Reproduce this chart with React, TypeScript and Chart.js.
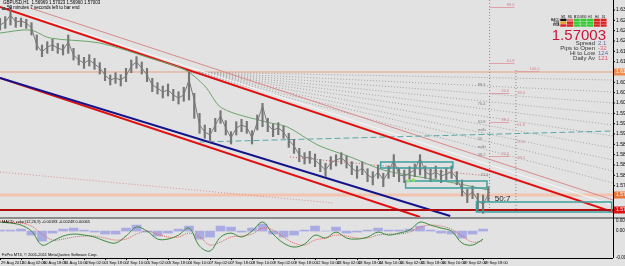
import React, { useEffect, useRef } from "react";
import { Chart, registerables } from "chart.js";
Chart.register(...registerables);

const BG = "#e2e2e2";
const FONT = "Liberation Sans, Arial, sans-serif";

// x unit = trading hours from the first bar
const BAR_HOURS = 4;
const OSC_HOURS = 8;
const LABEL_HOURS = 16;
const X_MAX = 467;
const PRICE_MIN = 1.5679;
const PRICE_MAX = 1.633;
const OSC_MIN = -0.0062;
const OSC_MAX = 0.00278;

const closes = [
  1.6255, 1.6264, 1.6285, 1.6264, 1.6267, 1.6261, 1.6246, 1.6195, 1.6174, 1.6189,
  1.6195, 1.6186, 1.618, 1.6204, 1.6165, 1.615, 1.6141, 1.615, 1.6138, 1.6126,
  1.6105, 1.609, 1.6096, 1.609, 1.6102, 1.6132, 1.6144, 1.6126, 1.6105, 1.6075,
  1.6066, 1.6054, 1.606, 1.6045, 1.6036, 1.6045, 1.609, 1.603, 1.5955, 1.5934,
  1.5925, 1.5955, 1.5982, 1.5946, 1.5916, 1.5946, 1.5955, 1.5949, 1.5916, 1.5964,
  1.6012, 1.5955, 1.594, 1.5946, 1.5934, 1.591, 1.5892, 1.5865, 1.5856, 1.5859,
  1.585, 1.5835, 1.582, 1.5841, 1.585, 1.5856, 1.5844, 1.5826, 1.5814, 1.5826,
  1.5805, 1.5796, 1.5814, 1.579, 1.5814, 1.585, 1.5805, 1.5802, 1.5811, 1.582,
  1.5856, 1.5814, 1.5805, 1.5814, 1.5802, 1.5808, 1.5814, 1.5796, 1.576, 1.5742,
  1.5754, 1.573, 1.5715, 1.5748,
];
const highs = [
  1.6275, 1.628, 1.631, 1.6278, 1.6276, 1.6272, 1.6262, 1.6225, 1.6195, 1.6205,
  1.6212, 1.62, 1.6196, 1.6225, 1.6185, 1.6165, 1.6158, 1.6166, 1.6155, 1.6142,
  1.6125, 1.6105, 1.6112, 1.6106, 1.6125, 1.615, 1.616, 1.6144, 1.6125, 1.6095,
  1.6082, 1.6072, 1.6078, 1.6062, 1.6055, 1.6068, 1.6114, 1.605, 1.599, 1.5955,
  1.5945, 1.5975, 1.5998, 1.5968, 1.5935, 1.5965, 1.5972, 1.5966, 1.5938, 1.5985,
  1.602, 1.5975, 1.5958, 1.5962, 1.5952, 1.593, 1.5912, 1.5885, 1.5872, 1.5876,
  1.5868, 1.5852, 1.584, 1.586, 1.5866, 1.5872, 1.5862, 1.5845, 1.5832, 1.5844,
  1.5824, 1.5815, 1.5835, 1.581, 1.5832, 1.5866, 1.5825, 1.582, 1.583, 1.5838,
  1.5866, 1.5832, 1.5822, 1.5832, 1.582, 1.5826, 1.5832, 1.5815, 1.579, 1.5762,
  1.5772, 1.575, 1.5745, 1.577,
];
const lows = [
  1.624, 1.6245, 1.6255, 1.6248, 1.625, 1.6245, 1.6225, 1.618, 1.616, 1.617,
  1.6178, 1.617, 1.6165, 1.617, 1.615, 1.6135, 1.6125, 1.6132, 1.6122, 1.6108,
  1.6088, 1.6075, 1.608, 1.6072, 1.6085, 1.6112, 1.6125, 1.6108, 1.6085, 1.6055,
  1.6048, 1.6036, 1.6042, 1.6028, 1.6018, 1.6026, 1.603, 1.5975, 1.593, 1.5915,
  1.5905, 1.5935, 1.596, 1.5925, 1.5898, 1.5925, 1.5935, 1.593, 1.5898, 1.594,
  1.595, 1.5935, 1.592, 1.5926, 1.5915, 1.5888, 1.587, 1.5845, 1.5838, 1.584,
  1.583, 1.5815, 1.58, 1.5822, 1.5832, 1.5838, 1.5826, 1.5806, 1.5795, 1.5806,
  1.5785, 1.5775, 1.5795, 1.577, 1.5795, 1.58, 1.5785, 1.5782, 1.5792, 1.58,
  1.5805, 1.5795, 1.5785, 1.5795, 1.5782, 1.579, 1.5795, 1.5776, 1.5742, 1.5722,
  1.5734, 1.57, 1.569, 1.5726,
];

const maHours = [0, 23, 38, 76, 114, 141, 156, 169, 203, 219, 242, 267, 292, 320, 350, 372];
const maPrices = [1.6231, 1.624, 1.6216, 1.6201, 1.6156, 1.612, 1.6072, 1.6006, 1.5964, 1.5949, 1.5895, 1.5859, 1.582, 1.5799, 1.5778, 1.576];

// trend lines: [hour, price] pairs
const upperRedLine = [[0, 1.6309], [467, 1.5694]];
const pinkLine = [[23, 1.6306], [467, 1.573]];
const whiteLine = [[23, 1.6284], [467, 1.5715]];
const navyLine = [[0, 1.6096], [343, 1.5682]];
const lowerRedLine = [[0, 1.6096], [320, 1.5679]];
const tealDashLine = [[152, 1.5904], [467, 1.5937]];
const pinkDotLine = [[0, 1.5814], [254, 1.5721]];
const redDotLine = [[221, 1.5859], [373, 1.5802]];
const fanOrigin = [145, 1.6114];
const fanEndHour = 467;
const fanEndPrices = [1.609, 1.6054, 1.6021, 1.5988, 1.5955, 1.5922, 1.5886, 1.585, 1.5817, 1.5781];
const hLevelTop = 1.6114;
const hLevelOrange = 1.5745;
const hLevelBid = 1.57;
const vDotHours = [373, 393];
const vDotTops = [1.633, 1.612];
const vDotBottom = 1.5694;

// rectangles: [hourFrom, hourTo, priceTop, priceBottom]
const boxes = [
  [290, 345, 1.5844, 1.5826],
  [309, 371, 1.5787, 1.5766],
  [363, 466, 1.5724, 1.5694],
];
const greenDotHours = [311, 315];
const greenDotPrices = [1.5787, 1.579];

// fib segments
const fibSegHours = [[373, 392], [373, 392], [393, 411], [373, 388], [373, 388], [373, 388]];
const fibSegPrices = [1.6309, 1.6141, 1.6117, 1.6051, 1.5964, 1.5862];
const fibSegLabels = ["88.6", "61.8", "100.0", "50.0", "38.2", "23.6"];
const fibGrayHours = [364, 364, 364, 364, 364, 364, 364, 366];
const fibGrayPrices = [1.6075, 1.6018, 1.5964, 1.594, 1.5913, 1.5889, 1.5865, 1.5805];
const fibGrayLabels = ["88.6", "76.4", "61.8", "mdls", "50", "mdls", "38.2", "23.6"];
const fibPinkHours = [394, 394, 394, 394];
const fibPinkPrices = [1.6051, 1.5955, 1.5904, 1.5856];
const fibPinkLabels = ["38.4", "61.8", "50.0", "38.2"];

const yTickPrices = [1.63, 1.6269, 1.6238, 1.6207, 1.6176, 1.6145, 1.6083, 1.6052, 1.6021, 1.599, 1.5959, 1.5928, 1.5897, 1.5866, 1.5835, 1.5804, 1.5773];

const xTickLabels = [
  "29 Aug 2011", "30 Aug 02:00", "30 Aug 18:00", "31 Aug 10:00", "1 Sep 02:00", "1 Sep 18:00",
  "2 Sep 10:00", "5 Sep 02:00", "5 Sep 18:00", "6 Sep 10:00", "7 Sep 02:00", "7 Sep 18:00",
  "8 Sep 10:00", "9 Sep 02:00", "9 Sep 18:00", "12 Sep 10:00", "13 Sep 02:00", "13 Sep 18:00",
  "14 Sep 10:00", "15 Sep 02:00", "15 Sep 18:00", "16 Sep 10:00", "19 Sep 02:00", "19 Sep 18:00",
];

const macdLine = [
  0.00207, 0.00184, 0.00138, 0, -0.00322, -0.0023, -0.00115, -0.00069, -0.00092, -0.00138,
  -0.0023, -0.00276, -0.00115, 0.00092, 0, -0.00184, -0.00184, -0.00092, 0.00069, -0.00345,
  -0.0046, -0.00138, -0.00046, -0.00138, 0, 0.00207, -0.00069, -0.00276, -0.00368, -0.00299,
  -0.00092, -0.00161, -0.00023, -0.00161, -0.00184, -0.00138, -0.00023, -0.00092, -0.00046, 0.00023,
  0.00207, 0.00138, 0.00069, 0, -0.00276, -0.00322, -0.00184,
];
const signalLine = [
  0.0023, 0.00207, 0.00184, 0.00115, -0.00069, -0.00207, -0.00184, -0.00138, -0.00115, -0.00115,
  -0.00161, -0.00207, -0.00184, -0.00069, 0, -0.00069, -0.00138, -0.00138, -0.00046, -0.00138,
  -0.00322, -0.00253, -0.00138, -0.00115, -0.00069, 0.00069, 0.00023, -0.00138, -0.00276, -0.00322,
  -0.00207, -0.00161, -0.00092, -0.00115, -0.00161, -0.00161, -0.00092, -0.00069, -0.00069, -0.00023,
  0.00092, 0.00138, 0.00115, 0.00046, -0.00115, -0.00253, -0.0023,
];
const histValues = [
  0.00023, 0.00023, 0.00046, -0.00092, -0.0023, -0.00046, 0.00046, 0.00069, 0.00023, -0.00023,
  -0.00069, -0.00069, 0.00069, 0.00138, -0.00023, -0.00115, -0.00046, 0.00046, 0.00115, -0.00184,
  -0.00138, 0.00115, 0.00092, -0.00023, 0.00069, 0.00161, -0.00069, -0.00138, -0.00092, 0.00023,
  0.00115, 0, 0.00092, -0.00046, -0.00023, 0.00023, 0.00069, 0.00023, 0.00023, 0.00046,
  0.00115, 0.00023, -0.00046, -0.00069, -0.00161, -0.00069, 0.00046,
];

const tfHeaders = ["M1", "M5", "M15", "M30", "H1", "H4", "D1"];
const tfRows = ["MACD", "STR", "EMA"];
const tfColors = [
  ["#111111", "#e87070", "#33cc33", "#33cc33", "#33cc33", "#dd2222", "#dd2222"],
  ["#f0a020", "#dd2222", "#33cc33", "#33cc33", "#33cc33", "#dd2222", "#dd2222"],
  ["#dd2222", "#dd2222", "#33cc33", "#33cc33", "#33cc33", "#dd2222", "#dd2222"],
];
const bidText = "1.57003";
const statLabels = ["Spread", "Pips to Open", "Hi to Low", "Daily Av"];
const statValues = ["2.1", "-32", "124", "121"];
const statColors = ["#6a6aa8", "#e0607a", "#6a6aa8", "#e05070"];

function seg(points: number[][], color: string, width: number, dash: number[], order: number) {
  return {
    type: "line" as const,
    data: points.map(([x, y]) => ({ x, y })),
    borderColor: color,
    borderWidth: width,
    borderDash: dash,
    pointRadius: 0,
    fill: false,
    tension: 0,
    order,
  };
}

export default function App() {
  const mainRef = useRef<HTMLCanvasElement>(null);
  const oscRef = useRef<HTMLCanvasElement>(null);

  useEffect(() => {
    const datasets: any[] = [];
    datasets.push({
      type: "bar",
      data: highs.map((h, i) => ({ x: i * BAR_HOURS, y: [lows[i], h] })),
      backgroundColor: "#767676",
      barThickness: 1.5,
      order: 1,
    });
    datasets.push({
      type: "line",
      data: closes.map((c, i) => ({ x: i * BAR_HOURS, y: c })),
      borderColor: "#7a7a7a",
      borderWidth: 1,
      pointRadius: 0,
      tension: 0,
      order: 0,
    });
    datasets.push({
      type: "line",
      data: maHours.map((h, i) => ({ x: h, y: maPrices[i] })),
      borderColor: "#6aa66a",
      borderWidth: 1,
      pointRadius: 0,
      tension: 0.3,
      order: 2,
    });
    datasets.push(seg(upperRedLine, "#e01010", 2, [], 3));
    datasets.push(seg(pinkLine, "#d88a8a", 1, [], 5));
    datasets.push(seg(whiteLine, "#f6f6f6", 1, [], 6));
    datasets.push(seg(navyLine, "#14148a", 2, [], 3));
    datasets.push(seg(lowerRedLine, "#e01010", 2, [], 3));
    datasets.push(seg(tealDashLine, "#5aa8a8", 1, [6, 3], 4));
    datasets.push(seg(pinkDotLine, "#e09090", 1, [1, 2], 7));
    datasets.push(seg(redDotLine, "#d06060", 1, [1, 2], 7));
    fanEndPrices.forEach((p) => datasets.push(seg([fanOrigin, [fanEndHour, p]], "#a4a4a4", 1, [1, 2], 8)));
    datasets.push(seg([[0, hLevelTop], [X_MAX, hLevelTop]], "#e8a080", 1, [], 9));
    datasets.push(seg([[0, hLevelOrange], [X_MAX, hLevelOrange]], "#f2c4b0", 3, [], 9));
    datasets.push(seg([[0, hLevelBid], [X_MAX, hLevelBid]], "#b01010", 2, [], 2));
    vDotHours.forEach((h, i) => datasets.push(seg([[h, vDotTops[i]], [h, vDotBottom]], "#8a8a8a", 1, [1, 2], 8)));

    const mainPlugin = {
      id: "mainDeco",
      beforeDraw(chart: any) {
        const c = chart.ctx;
        c.save();
        c.fillStyle = BG;
        c.fillRect(0, 0, chart.width, chart.height);
        c.restore();
      },
      afterDatasetsDraw(chart: any) {
        const c = chart.ctx;
        const xs = chart.scales.x, ys = chart.scales.y;
        c.save();
        c.strokeStyle = "#3f9f9f";
        c.lineWidth = 1.5;
        boxes.forEach(([h1, h2, p1, p2]) => {
          const x1 = xs.getPixelForValue(h1), x2 = xs.getPixelForValue(h2);
          const y1 = ys.getPixelForValue(p1), y2 = ys.getPixelForValue(p2);
          c.strokeRect(x1, y1, x2 - x1, y2 - y1);
        });
        c.fillStyle = "#8ee060";
        greenDotHours.forEach((h, i) => {
          c.beginPath();
          c.arc(xs.getPixelForValue(h), ys.getPixelForValue(greenDotPrices[i]), 1.8, 0, Math.PI * 2);
          c.fill();
        });
        c.strokeStyle = "#e0a0a8";
        c.lineWidth = 1;
        c.font = `4px ${FONT}`;
        c.textBaseline = "bottom";
        fibSegHours.forEach(([h1, h2], i) => {
          const y = Math.round(ys.getPixelForValue(fibSegPrices[i])) + 0.5;
          c.beginPath();
          c.moveTo(xs.getPixelForValue(h1), y);
          c.lineTo(xs.getPixelForValue(h2), y);
          c.stroke();
          c.fillStyle = "#d08890";
          c.textAlign = "right";
          c.fillText(fibSegLabels[i], xs.getPixelForValue(h2), y - 0.5);
        });
        c.textAlign = "left";
        c.textBaseline = "middle";
        c.fillStyle = "#808080";
        fibGrayLabels.forEach((t, i) => c.fillText(t, xs.getPixelForValue(fibGrayHours[i]), ys.getPixelForValue(fibGrayPrices[i])));
        c.fillStyle = "#d08890";
        fibPinkLabels.forEach((t, i) => c.fillText(t, xs.getPixelForValue(fibPinkHours[i]), ys.getPixelForValue(fibPinkPrices[i])));
        c.fillStyle = "#222";
        c.font = `8px ${FONT}`;
        c.textAlign = "left";
        c.fillText("50:7", xs.getPixelForValue(377), ys.getPixelForValue(1.5733));
        c.restore();
      },
      afterDraw(chart: any) {
        const c = chart.ctx;
        const ys = chart.scales.y;
        const right = chart.chartArea.right;
        c.save();
        c.fillStyle = BG;
        c.fillRect(right + 1, 0, chart.width - right, chart.height);
        c.strokeStyle = "#000";
        c.lineWidth = 1;
        c.beginPath();
        c.moveTo(right + 0.5, 0);
        c.lineTo(right + 0.5, chart.height);
        c.stroke();
        c.font = `5px ${FONT}`;
        c.textBaseline = "middle";
        c.textAlign = "left";
        c.fillStyle = "#000";
        yTickPrices.forEach((p) => {
          const y = ys.getPixelForValue(p);
          c.beginPath();
          c.moveTo(right, y);
          c.lineTo(right + 2, y);
          c.stroke();
          c.fillText(p.toFixed(5), right + 3, y);
        });
        const marks: [number, string][] = [[hLevelTop, "#ef8a4a"], [hLevelOrange, "#e8743b"], [hLevelBid, "#dd1111"]];
        marks.forEach(([p, col]) => {
          const y = ys.getPixelForValue(p);
          c.fillStyle = col;
          c.fillRect(right + 1, y - 3.5, chart.width - right, 7);
          c.fillStyle = "#fff";
          c.fillText(p.toFixed(5), right + 3, y);
        });
        c.fillStyle = "#000";
        c.font = `4.5px ${FONT}`;
        c.textBaseline = "top";
        c.fillText("GBPUSD,H1  1.56969 1.57023 1.56960 1.57003", 3, 1);
        c.fillStyle = "#555";
        c.fillRect(2, 7, 3, 3);
        c.fillStyle = "#000";
        c.fillText("50 minutes 7 seconds left to bar end", 7, 6);
        const gx = 560, gy = 18.5, cw = 6.7, rh = 2.8;
        c.font = `3px ${FONT}`;
        c.textAlign = "center";
        c.textBaseline = "bottom";
        tfHeaders.forEach((t, j) => c.fillText(t, gx + cw * j + cw / 2, gy - 0.3));
        c.textAlign = "right";
        c.textBaseline = "middle";
        tfRows.forEach((t, r) => {
          c.fillStyle = "#000";
          c.fillText(t, gx - 0.5, gy + rh * r + rh / 2);
          tfColors[r].forEach((col, j) => {
            c.fillStyle = col;
            c.fillRect(gx + cw * j + 0.3, gy + rh * r + 0.2, cw - 0.6, rh - 0.4);
          });
        });
        c.fillStyle = "#c8163a";
        c.font = `15px ${FONT}`;
        c.textAlign = "right";
        c.textBaseline = "alphabetic";
        c.fillText(bidText, 606, 40);
        c.font = `6px ${FONT}`;
        c.textBaseline = "middle";
        statLabels.forEach((t, i) => {
          const y = 43.5 + i * 5;
          c.fillStyle = "#333";
          c.textAlign = "right";
          c.fillText(t, 595, y);
          c.fillStyle = statColors[i];
          c.textAlign = "left";
          c.fillText(statValues[i], 598, y);
        });
        c.restore();
      },
    };

    const main = new Chart(mainRef.current!, {
      type: "bar",
      data: { datasets },
      options: {
        responsive: false,
        maintainAspectRatio: false,
        animation: false,
        layout: { padding: { left: 0, right: 12, top: 0, bottom: 0 } },
        plugins: { legend: { display: false }, tooltip: { enabled: false } },
        scales: {
          x: { type: "linear", min: 0, max: X_MAX, display: false, offset: false },
          y: { type: "linear", min: PRICE_MIN, max: PRICE_MAX, display: false },
        },
      } as any,
      plugins: [mainPlugin],
    } as any);

    const oscPlugin = {
      id: "oscDeco",
      beforeDraw(chart: any) {
        const c = chart.ctx;
        c.save();
        c.fillStyle = BG;
        c.fillRect(0, 0, chart.width, chart.height);
        c.fillStyle = "#8c8c8c";
        c.fillRect(0, 0, chart.width, 2);
        c.restore();
      },
      afterDraw(chart: any) {
        const c = chart.ctx;
        const xs = chart.scales.x, ys = chart.scales.y;
        const { right, bottom, top } = chart.chartArea;
        c.save();
        c.fillStyle = BG;
        c.fillRect(right + 1, 2, chart.width - right, chart.height);
        c.strokeStyle = "#000";
        c.lineWidth = 1;
        c.beginPath();
        c.moveTo(right + 0.5, 0);
        c.lineTo(right + 0.5, bottom);
        c.moveTo(0, bottom + 0.5);
        c.lineTo(right, bottom + 0.5);
        c.stroke();
        c.font = `4.5px ${FONT}`;
        c.fillStyle = "#000";
        c.textAlign = "left";
        c.textBaseline = "middle";
        const oscTicks: [number, string][] = [[OSC_MAX, "0.00278"], [0, "0.00"], [OSC_MIN, "-0.0062"]];
        oscTicks.forEach(([v, t]) => {
          const y = Math.min(Math.max(ys.getPixelForValue(v), top + 2), bottom);
          c.fillText(t, right + 3, y);
        });
        c.font = `4px ${FONT}`;
        c.textBaseline = "top";
        xTickLabels.forEach((t, i) => {
          const x = xs.getPixelForValue(i * LABEL_HOURS);
          c.beginPath();
          c.moveTo(x + 0.5, bottom);
          c.lineTo(x + 0.5, bottom + 2);
          c.stroke();
          c.fillText(t, x + 1, bottom + 2.5);
        });
        c.fillText("MACD_color(12,26,9) -0.00183 -0.00248 0.00065", 2, top + 1);
        c.textBaseline = "bottom";
        c.fillText("FxPro MT4, \u00a9 2001-2011 MetaQuotes Software Corp.", 2, bottom - 1);
        c.restore();
      },
    };

    const osc = new Chart(oscRef.current!, {
      type: "bar",
      data: {
        datasets: [
          {
            type: "line",
            data: macdLine.map((v, i) => ({ x: i * OSC_HOURS, y: v })),
            borderColor: "#3c8a3c",
            borderWidth: 1,
            pointRadius: 0,
            tension: 0.35,
            order: 0,
          },
          {
            type: "line",
            data: signalLine.map((v, i) => ({ x: i * OSC_HOURS, y: v })),
            borderColor: "#e06060",
            borderWidth: 1,
            borderDash: [1, 1],
            pointRadius: 0,
            tension: 0.35,
            order: 1,
          },
          {
            type: "bar",
            data: histValues.map((v, i) => ({ x: i * OSC_HOURS, y: v })),
            backgroundColor: "rgba(125,125,228,0.55)",
            barThickness: 9,
            order: 2,
          },
        ],
      },
      options: {
        responsive: false,
        maintainAspectRatio: false,
        animation: false,
        layout: { padding: { left: 0, right: 12, top: 2, bottom: 8 } },
        plugins: { legend: { display: false }, tooltip: { enabled: false } },
        scales: {
          x: { type: "linear", min: 0, max: X_MAX, display: false, offset: false },
          y: { type: "linear", min: OSC_MIN, max: OSC_MAX, display: false },
        },
      } as any,
      plugins: [oscPlugin],
    } as any);

    return () => {
      main.destroy();
      osc.destroy();
    };
  }, []);

  return (
    <div style={{ position: "fixed", left: 0, top: 0, width: 625, height: 266, background: BG, overflow: "hidden" }}>
      <canvas ref={mainRef} width={625} height={217} style={{ position: "absolute", left: 0, top: 0, width: 625, height: 217 }} />
      <canvas ref={oscRef} width={625} height={49} style={{ position: "absolute", left: 0, top: 217, width: 625, height: 49 }} />
    </div>
  );
}
